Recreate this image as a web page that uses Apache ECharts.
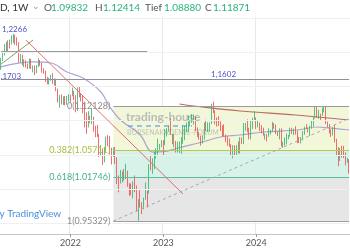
<!DOCTYPE html>
<html><head><meta charset="utf-8">
<script src="https://cdn.jsdelivr.net/npm/echarts@6/dist/echarts.min.js"></script>
<style>html,body{margin:0;padding:0;background:#fff;overflow:hidden}#c{width:350px;height:250px}</style>
</head><body><div id="c"></div>
<script>
// Weekly EUR/USD candles, first week 2021-04-05 ... last week 2024-12-30
const firstWeek = '2021-04-05';
const firstOpen = 1.1765;
const closes = [
1.1900,1.1983,1.2097,1.2020,1.2163,1.2145,1.2180,1.2190,1.2165,1.2106,
1.1860,1.1937,1.1865,1.1875,1.1810,1.1770,1.1870,1.1760,1.1795,1.1700,
1.1795,1.1880,1.1815,1.1725,1.1720,1.1595,1.1570,1.1600,1.1645,1.1560,
1.1567,1.1445,1.1290,1.1318,1.1315,1.1315,1.1240,1.1320,1.1370,
1.1360,1.1410,1.1345,1.1145,1.1450,1.1350,1.1320,1.1270,1.0930,1.0910,
1.1050,1.0985,1.1050,1.0875,1.0810,1.0790,1.0545,1.0550,1.0410,1.0560,
1.0730,1.0720,1.0520,1.0495,1.0555,1.0425,1.0185,1.0080,1.0210,1.0220,
1.0180,1.0260,1.0040,0.9965,0.9955,1.0040,1.0015,0.9690,0.9800,0.9740,
0.9720,0.9860,0.9965,0.9960,1.0355,1.0325,1.0400,1.0535,1.0540,1.0585,
1.0615,1.0705,
1.0645,1.0830,1.0855,1.0870,1.0795,1.0680,1.0695,1.0545,1.0635,1.0640,
1.0670,1.0760,1.0840,1.0905,1.0990,1.0990,1.1020,1.1020,1.0850,1.0805,
1.0725,1.0705,1.0750,1.0940,1.0895,1.0910,1.0970,1.1230,1.1125,1.1015,
1.1005,1.0950,1.0870,1.0795,1.0775,1.0700,1.0660,1.0650,1.0575,1.0585,
1.0510,1.0595,1.0565,1.0730,1.0685,1.0915,1.0940,1.0885,1.0760,1.0895,
1.1015,1.1040,
1.0940,1.0950,1.0895,1.0850,1.0785,1.0785,1.0775,1.0820,1.0835,1.0940,
1.0890,1.0810,1.0790,1.0840,1.0645,1.0655,1.0695,1.0760,1.0770,1.0870,
1.0845,1.0850,1.0800,1.0705,1.0690,1.0715,1.0840,1.0905,1.0885,1.0855,
1.0910,1.0915,1.1030,1.1195,1.1050,1.1085,1.1075,1.1165,1.1165,1.0975,
1.0935,1.0865,1.0800,1.0835,1.0720,1.0545,1.0420,1.0575,1.0565,1.0500,
1.0430,1.0430,1.0310
];
const highs = [
1.1914,1.1995,1.2117,1.2150,1.2172,1.2183,1.2245,1.2266,1.2255,1.2218,
1.2145,1.1975,1.1960,1.1895,1.1880,1.1835,1.1909,1.1900,1.1805,1.1805,
1.1810,1.1909,1.1885,1.1845,1.1765,1.1730,1.1640,1.1624,1.1669,1.1692,
1.1616,1.1610,1.1465,1.1374,1.1383,1.1355,1.1360,1.1360,1.1386,
1.1376,1.1482,1.1435,1.1370,1.1483,1.1495,1.1395,1.1365,1.1275,1.1120,
1.1137,1.1070,1.1185,1.1055,1.0925,1.0936,1.0806,1.0641,1.0592,1.0607,
1.0765,1.0787,1.0774,1.0602,1.0606,1.0615,1.0464,1.0200,1.0278,1.0258,
1.0293,1.0368,1.0268,1.0090,1.0079,1.0113,1.0198,1.0051,0.9853,0.9999,
0.9809,0.9875,1.0094,0.9977,1.0362,1.0481,1.0448,1.0545,1.0595,1.0736,
1.0658,1.0713,
1.0713,1.0874,1.0887,1.0929,1.1033,1.0806,1.0805,1.0703,1.0692,1.0695,
1.0760,1.0930,1.0926,1.0973,1.1075,1.1000,1.1095,1.1091,1.1062,1.0900,
1.0830,1.0780,1.0787,1.0971,1.1012,1.0976,1.0975,1.1245,1.1276,1.1149,
1.1045,1.1065,1.0988,1.0930,1.0945,1.0795,1.0768,1.0737,1.0655,1.0640,
1.0640,1.0640,1.0695,1.0756,1.0756,1.0965,1.0965,1.1017,1.0895,1.1009,
1.1040,1.1139,
1.1046,1.0999,1.0970,1.0932,1.0895,1.0810,1.0805,1.0888,1.0865,1.0981,
1.0963,1.0942,1.0840,1.0885,1.0885,1.0690,1.0753,1.0812,1.0790,1.0895,
1.0895,1.0882,1.0916,1.0852,1.0761,1.0761,1.0845,1.0910,1.0948,1.0898,
1.0926,1.1008,1.1047,1.1200,1.1202,1.1155,1.1100,1.1189,1.1214,1.1210,
1.0985,1.0947,1.0872,1.0905,1.0937,1.0735,1.0611,1.0597,1.0630,1.0630,
1.0535,1.0457,1.0437
];
const lows = [
1.1740,1.1870,1.1950,1.1990,1.1986,1.2052,1.2110,1.2133,1.2105,1.2095,
1.1847,1.1848,1.1807,1.1781,1.1772,1.1752,1.1760,1.1752,1.1705,1.1664,
1.1690,1.1780,1.1800,1.1700,1.1684,1.1563,1.1529,1.1525,1.1580,1.1535,
1.1513,1.1430,1.1263,1.1186,1.1235,1.1228,1.1222,1.1230,1.1279,
1.1273,1.1355,1.1300,1.1121,1.1142,1.1340,1.1280,1.1106,1.0900,1.0806,
1.0900,1.0960,1.0945,1.0837,1.0757,1.0760,1.0470,1.0490,1.0350,1.0390,
1.0550,1.0627,1.0505,1.0359,1.0470,1.0366,1.0072,0.9952,1.0080,1.0097,
1.0123,1.0145,1.0033,0.9900,0.9910,0.9864,0.9956,0.9669,0.9536,0.9730,
0.9632,0.9705,0.9842,0.9730,0.9935,1.0272,1.0222,1.0290,1.0443,1.0500,
1.0573,1.0610,
1.0483,1.0640,1.0767,1.0835,1.0790,1.0655,1.0613,1.0533,1.0533,1.0525,
1.0516,1.0660,1.0713,1.0830,1.0831,1.0910,1.0965,1.0941,1.0845,1.0760,
1.0720,1.0635,1.0665,1.0722,1.0845,1.0834,1.0834,1.0950,1.1110,1.0944,
1.0912,1.0920,1.0845,1.0765,1.0770,1.0685,1.0632,1.0615,1.0488,1.0448,
1.0495,1.0496,1.0523,1.0516,1.0656,1.0656,1.0852,1.0830,1.0724,1.0724,
1.0880,1.1000,
1.0877,1.0900,1.0844,1.0812,1.0780,1.0722,1.0695,1.0762,1.0795,1.0835,
1.0880,1.0803,1.0775,1.0725,1.0622,1.0601,1.0635,1.0650,1.0725,1.0765,
1.0805,1.0788,1.0795,1.0668,1.0672,1.0665,1.0710,1.0792,1.0880,1.0825,
1.0775,1.0880,1.0910,1.1030,1.1040,1.1026,1.1001,1.1068,1.1120,1.0950,
1.0900,1.0811,1.0761,1.0782,1.0682,1.0497,1.0333,1.0410,1.0460,1.0452,
1.0343,1.0385,1.0226
];
// moving averages: [week index, price]
const maSlow = [[0,1.1783],[18,1.1856],[28,1.1841],[37,1.1709],[46,1.1622],[56,1.1417],[61,1.1198],[67,1.1008],[78,1.0789],[85,1.0540],[91,1.0545],[99,1.0599],[113,1.0687],[123,1.0760],[134,1.0789],[147,1.0833],[166,1.0862],[177,1.0906],[184,1.0891],[195,1.0862]];
const maLong = [[100,1.1242],[108,1.1213],[134,1.1140],[165,1.1081],[195,1.1008]];
// drawings
const redTrend = [[14,1.2177],[102,0.9927]];
const oliveTrend = [[0,1.1822],[18,1.2177]];
const dashTrend = [[63,0.95329],[195,1.1029]];
const level120 = [[0,1.2016],[82,1.2016]];
const level116 = [[0,1.1607],[195,1.1607]];
const fibStart = 63, fibEnd = 195;
const fibHigh = 1.12128, fibLow = 0.95329;
const fibRatios = [0, 0.382, 0.618, 1];
const fibText = ['0(1.12128)','0.382(1.05711)','0.618(1.01746)','1(0.95329)'];
const gridPrices = [0.95,1.00,1.05,1.10,1.15,1.20,1.25];
const yearLabels = ['2022','2023','2024'];

const cats = [];
const t0 = Date.parse(firstWeek + 'T00:00:00Z');
for (let i = 0; i < closes.length; i++) cats.push(new Date(t0 + i*7*86400000).toISOString().slice(0,10));
const ohlc = closes.map((c,i)=>[i===0?firstOpen:closes[i-1], c, lows[i], highs[i]]);
const yearIdx = yearLabels.map(y => cats.findIndex(d => d.slice(0,4) === y));
const isYear = (i) => yearIdx.indexOf(i) >= 0;
const fibP = fibRatios.map(r => fibHigh - r*(fibHigh - fibLow));

const fibColors = ['#9a9a9a','#b3c94f','#56bf9d','#9e9e9e'];
const fibLabelColors = ['#8c8c8c','#a6bd3c','#48b08e','#8c8c8c'];
const FONT = 'Lato, "Open Sans", sans-serif';

const chart = echarts.init(document.getElementById('c'), null, {renderer:'canvas'});
chart.setOption({
  animation:false,
  grid:{left:0,right:0,top:0,bottom:16},
  xAxis:{type:'category',data:cats,boundaryGap:true,
    axisLine:{lineStyle:{color:'#c4c6cc'}},
    axisTick:{show:true,interval:(i)=>isYear(i),alignWithLabel:true,length:3,lineStyle:{color:'#999'}},
    axisLabel:{interval:(i)=>isYear(i),formatter:(v)=>v.slice(0,4),color:'#555',fontSize:9,margin:5,fontFamily:FONT},
    splitLine:{show:true,interval:(i)=>isYear(i),lineStyle:{color:'#e9e9ec'}}},
  yAxis:{type:'value',min:0.9343,max:1.2761,show:false,scale:true},
  series:[
    {type:'line',data:[],z:0,silent:true,
      markLine:{symbol:['none','none'],silent:true,label:{show:false},
        lineStyle:{color:'#f0f0f2',type:'solid',width:1},
        data:gridPrices.map(p=>({yAxis:p}))}},
    {type:'line',data:[],z:1,silent:true,
      markArea:{silent:true,label:{show:false},data:[
        [{coord:[fibStart,fibP[0]],itemStyle:{color:'#f2f7da'}},{coord:[fibEnd,fibP[1]]}],
        [{coord:[fibStart,fibP[1]],itemStyle:{color:'#d7f2e8'}},{coord:[fibEnd,fibP[2]]}],
        [{coord:[fibStart,fibP[2]],itemStyle:{color:'#e6e6e6'}},{coord:[fibEnd,fibP[3]]}]
      ]},
      markLine:{symbol:['none','none'],silent:true,
        data:fibP.map((p,k)=>[
          {coord:[fibStart,p],lineStyle:{color:fibColors[k],width:1,type:'solid'},
           label:{show:true,position:'start',distance:3,formatter:fibText[k],color:fibLabelColors[k],fontSize:9,fontFamily:FONT}},
          {coord:[fibEnd,p]}])}},
    {type:'line',data:maSlow,z:2,smooth:0.4,showSymbol:false,silent:true,
      lineStyle:{color:'#a9a6cf',width:1.2}},
    {type:'line',data:maLong,z:2,smooth:0.4,showSymbol:false,silent:true,
      lineStyle:{color:'#b86a6a',width:1.2}},
    {type:'candlestick',data:ohlc,z:3,barWidth:'72%',
      itemStyle:{color:'#2db370',color0:'#ef4a4a',borderColor:'#2db370',borderColor0:'#ef4a4a',borderWidth:0.8}},
    {type:'line',data:[],z:4,silent:true,
      markLine:{symbol:['none','none'],silent:true,label:{show:false},
        data:[
          [{coord:redTrend[0],lineStyle:{color:'#e36b6b',width:1,type:'solid'}},{coord:redTrend[1]}],
          [{coord:oliveTrend[0],lineStyle:{color:'#8f9f55',width:1,type:'solid'}},{coord:oliveTrend[1]}],
          [{coord:dashTrend[0],lineStyle:{color:'#a8a8a8',width:1,type:[3,3]}},{coord:dashTrend[1]}],
          [{coord:level120[0],lineStyle:{color:'#9b9b9b',width:1,type:'solid'}},{coord:level120[1]}],
          [{coord:level116[0],lineStyle:{color:'#8e8f9c',width:1.2,type:'solid'}},{coord:level116[1]}]
        ]}}
  ],
  graphic:[
    {type:'rect',left:0,top:0,shape:{width:350,height:17},style:{fill:'rgba(255,255,255,0.85)'},z:90,silent:true},
    {type:'text',left:0,top:3,style:{text:'D, 1W',fill:'#333',font:'10px '+FONT},z:100},
    {type:'text',left:32,top:2,style:{text:'⌄',fill:'#999',font:'9px '+FONT},z:100},
    {type:'text',left:44,top:3,style:{text:'O',fill:'#555',font:'10px '+FONT},z:100},
    {type:'text',left:51,top:3,style:{text:'1.09832',fill:'#2bb37a',font:'10px '+FONT},z:100},
    {type:'text',left:95,top:3,style:{text:'H',fill:'#555',font:'10px '+FONT},z:100},
    {type:'text',left:103,top:3,style:{text:'1.12414',fill:'#2bb37a',font:'10px '+FONT},z:100},
    {type:'text',left:145,top:3,style:{text:'Tief',fill:'#555',font:'10px '+FONT},z:100},
    {type:'text',left:164,top:3,style:{text:'1.08880',fill:'#2bb37a',font:'10px '+FONT},z:100},
    {type:'text',left:205,top:3,style:{text:'C',fill:'#555',font:'10px '+FONT},z:100},
    {type:'text',left:213,top:3,style:{text:'1.11871',fill:'#2bb37a',font:'10px '+FONT},z:100},
    {type:'text',left:2,top:25,style:{text:'1,2266',fill:'#4f52c4',font:'8px '+FONT},z:100},
    {type:'text',left:-4,top:72,style:{text:'1,1703',fill:'#4f52c4',font:'8px '+FONT},z:100},
    {type:'text',left:211,top:70,style:{text:'1,1602',fill:'#4f52c4',font:'8px '+FONT},z:100},
    {type:'text',left:126,top:111,style:{text:'trading-house',fill:'rgba(110,120,130,0.45)',font:'bold 12px '+FONT},z:100},
    {type:'line',shape:{x1:128,y1:126,x2:192,y2:126},style:{stroke:'rgba(80,150,220,0.55)',lineWidth:2,lineDash:[5,4]},z:100},
    {type:'text',left:127,top:129,style:{text:'BÖRSENAKADEMIE-FORUM',fill:'rgba(110,120,130,0.4)',font:'7px '+FONT},z:100},
    {type:'text',left:-6,top:209,style:{text:'by TradingView',fill:'#4b8fdc',font:'10px '+FONT},z:100}
  ]
});
</script>
</body></html>
